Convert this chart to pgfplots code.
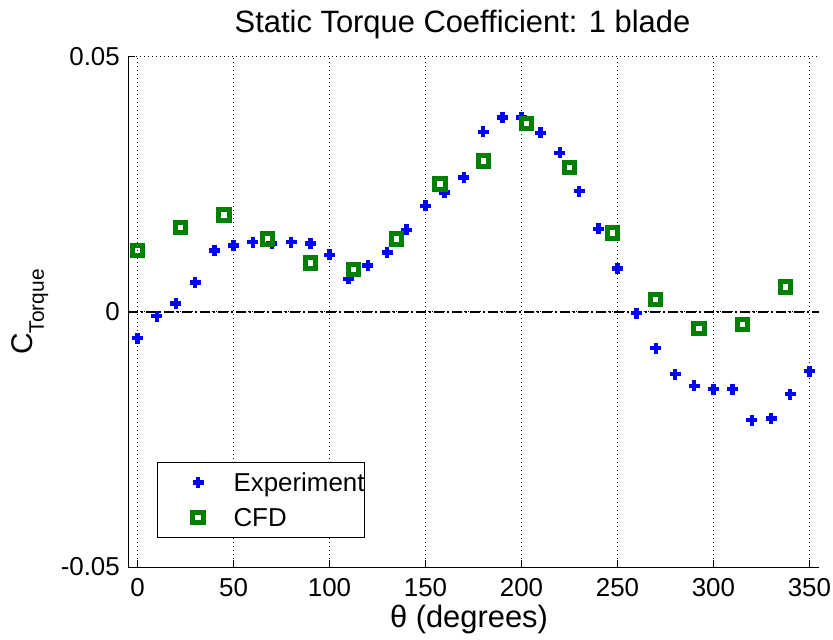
\documentclass[border=0pt]{standalone}
\usepackage{pgfplots}
\pgfplotsset{compat=1.18}
\usepackage{fontspec}
\setmainfont{Liberation Sans}
\definecolor{mblue}{RGB}{0,0,255}
\definecolor{mgreen}{RGB}{0,128,0}
\pgfplotsset{
 mylegimg/.style={legend image code/.code={
   \path (0bp,0bp) (56bp,0bp);
   \draw[mark repeat=2,mark phase=2,##1] plot coordinates {(0bp,0bp) (38bp,0bp) (56bp,0bp)};}},
}
\begin{document}
\begin{tikzpicture}
\begin{axis}[
 at={(0,0)}, anchor=south west,
 scale only axis, width=691bp, height=510bp,
 xmin=-5, xmax=355, ymin=-0.05, ymax=0.05,
 axis x line*=bottom, axis y line*=left,
 axis line style={black, line width=1bp},
 xtick={0,50,...,350}, ytick={-0.05,0,0.05},
 xticklabels={0,50,100,150,200,250,300,350},
 yticklabels={-0.05,0,0.05},
 scaled y ticks=false,
 tick align=inside, major tick length=7bp,
 tick style={black, line width=1bp},
 grid=major, major grid style={black, line width=1bp, dash pattern=on 1bp off 3bp},
 ticklabel style={font=\fontsize{26}{30}\selectfont},
 xticklabel style={anchor=base, inner sep=0pt, yshift=-29bp},
 yticklabel style={anchor=east, inner sep=0pt, xshift=-8bp},
 legend style={at={(0.042,0.057)}, anchor=south west, draw=black, line width=1bp, fill=white,
   font=\fontsize{26}{30}\selectfont, inner xsep=0pt, inner ysep=4bp,
   column sep=15bp, row sep=3bp,
   nodes={inner sep=0pt, text height=25bp, text depth=7bp}},
 legend cell align=left,
 clip=false,
]
\addplot[black, line width=1.4bp, dash pattern=on 10bp off 3bp on 2bp off 3bp, forget plot]
 coordinates {(-5,0) (355,0)};
\addplot[only marks, mark=+, mark size=5.5bp, line width=4.5bp, color=mblue, mylegimg] table {
x y
0 -0.0051
10 -0.0008
20 0.0017
30 0.0058
40 0.0121
50 0.0130
60 0.0137
70 0.0134
80 0.0137
90 0.0134
100 0.0112
110 0.0065
120 0.0091
130 0.0117
140 0.0161
150 0.0208
160 0.0234
170 0.0264
180 0.0353
190 0.0381
200 0.0381
210 0.0351
220 0.0312
230 0.0237
240 0.0163
250 0.0085
260 -0.0002
270 -0.0071
280 -0.0122
290 -0.0145
300 -0.0151
310 -0.0151
320 -0.0212
330 -0.0209
340 -0.0161
350 -0.0116
};
\addlegendentry{Experiment\hspace{10bp}}
\addplot[only marks, mark=square, mark size=5.1bp, line width=5bp, color=mgreen, mylegimg] table {
x y
0 0.0120
22.5 0.0165
45 0.0190
67.5 0.0143
90 0.0096
112.5 0.0084
135 0.0143
157.5 0.0251
180 0.0296
202.5 0.0369
225 0.0284
247.5 0.0155
270 0.0025
292.5 -0.0033
315 -0.0024
337.5 0.0049
};
\addlegendentry{CFD}
\end{axis}
\node[anchor=base, inner sep=0pt, font=\fontsize{31}{36}\selectfont] at (334.5bp,534bp) {Static Torque Coefficient: 1 blade};
\node[anchor=base, inner sep=0pt, font=\fontsize{31}{36}\selectfont] at (341bp,-60bp) {θ (degrees)};
\node[anchor=base, inner sep=0pt, rotate=90, font=\fontsize{30}{36}\selectfont] at (-95bp,255bp) {C\raisebox{-11bp}{\fontsize{21}{24}\selectfont Torque}};
\pgfresetboundingbox
\path[use as bounding box] (-128bp,-73bp) rectangle (705bp,567bp);
\end{tikzpicture}
\end{document}
